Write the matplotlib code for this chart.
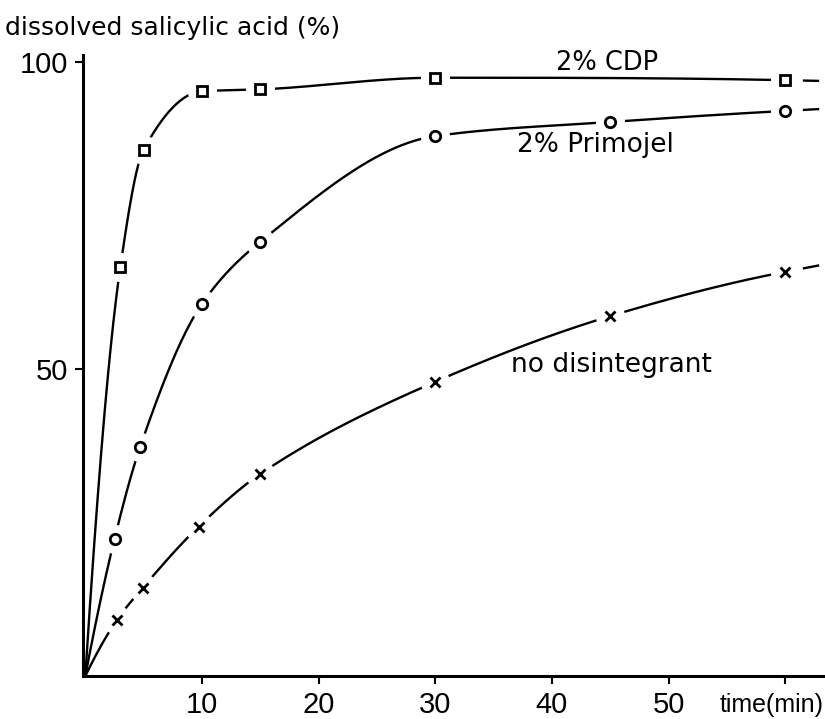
import numpy as np
import matplotlib
matplotlib.use("Agg")
import matplotlib.pyplot as plt

# ---- data ----
time_cdp = [0, 3, 5, 10, 15, 30, 60]
cdp = [0, 66.6, 85.7, 95.2, 95.5, 97.4, 97.0]
time_prim = [0, 2.5, 4.7, 10, 15, 30, 45, 60]
primojel = [0, 22.3, 37.3, 60.6, 70.7, 87.9, 90.2, 92.0]
time_none = [0, 2.7, 4.9, 9.7, 15, 30, 45, 60]
no_disint = [0, 9.1, 14.3, 24.3, 32.9, 47.9, 58.6, 65.8]

x_ticks = [10, 20, 30, 40, 50, 60]
x_ticklabels = ["10", "20", "30", "40", "50", ""]
y_ticks = [50, 100]
y_ticklabels = ["50", "100"]


def pchip_slopes(x, y):
    x = np.asarray(x, float); y = np.asarray(y, float)
    h = np.diff(x); d = np.diff(y) / h
    n = len(x); m = np.zeros(n)
    for k in range(1, n - 1):
        if d[k - 1] * d[k] > 0:
            w1 = 2 * h[k] + h[k - 1]; w2 = h[k] + 2 * h[k - 1]
            m[k] = (w1 + w2) / (w1 / d[k - 1] + w2 / d[k])
    def end(h0, h1, d0, d1):
        s = ((2 * h0 + h1) * d0 - h0 * d1) / (h0 + h1)
        if np.sign(s) != np.sign(d0):
            s = 0
        elif np.sign(d0) != np.sign(d1) and abs(s) > abs(3 * d0):
            s = 3 * d0
        return s
    m[0] = end(h[0], h[1], d[0], d[1])
    m[-1] = end(h[-1], h[-2], d[-1], d[-2])
    return m


def pchip_curve(x, y, num=800):
    x = np.asarray(x, float); y = np.asarray(y, float)
    m = pchip_slopes(x, y)
    xs = np.linspace(x[0], x[-1], num)
    idx = np.clip(np.searchsorted(x, xs) - 1, 0, len(x) - 2)
    x0 = x[idx]; x1 = x[idx + 1]; hh = x1 - x0
    t = (xs - x0) / hh
    h00 = 2 * t**3 - 3 * t**2 + 1; h10 = t**3 - 2 * t**2 + t
    h01 = -2 * t**3 + 3 * t**2; h11 = t**3 - t**2
    ys = h00 * y[idx] + h10 * hh * m[idx] + h01 * y[idx + 1] + h11 * hh * m[idx + 1]
    return xs, ys, m[-1]


W, H = 825, 719
fig = plt.figure(figsize=(W / 100, H / 100), dpi=100)
ax = fig.add_axes([83 / W, (H - 676) / H, (W - 83) / W, (676 - 55) / H])
ax.set_xlim(-0.2, 63.4)
ax.set_ylim(0, 101.1)

series = [
    (time_cdp, cdp, "s", 7),
    (time_prim, primojel, "o", 7.5),
    (time_none, no_disint, "x", 7),
]
for tx, vy, mk, ms in series:
    xs, ys, slope = pchip_curve(tx, vy)
    ax.plot(xs, ys, color="black", lw=1.7, zorder=2, solid_capstyle="butt")
    # short dashed continuation beyond the last point
    xe = np.array([61.6, 62.8])
    ax.plot(xe, vy[-1] + slope * (xe - tx[-1]), color="black", lw=1.7,
            zorder=2, clip_on=False)
    # white halos for line gaps around markers
    ax.plot(tx[1:], vy[1:], linestyle="none", marker="o", ms=20,
            mfc="white", mec="white", zorder=3)
    ax.plot(tx[1:], vy[1:], linestyle="none", marker=mk, ms=ms,
            mfc="white", mec="black", mew=2.0, zorder=4)

for s in ["top", "right"]:
    ax.spines[s].set_visible(False)
for s in ["left", "bottom"]:
    ax.spines[s].set_linewidth(2.2)

ax.set_xticks(x_ticks)
ax.set_xticklabels(x_ticklabels)
ax.set_yticks(y_ticks)
ax.set_yticklabels(y_ticklabels)
ax.tick_params(axis="both", direction="out", length=6, width=1.5,
               labelsize=21, pad=5)
for lab in ax.get_xticklabels() + ax.get_yticklabels():
    lab.set_family(["Liberation Sans", "DejaVu Sans"])

ax.text(44.7, 98.6, "2% CDP", fontsize=18.5, ha="center", va="baseline")
ax.text(43.7, 85.3, "2% Primojel", fontsize=19, ha="center", va="baseline")
ax.text(45.1, 49.5, "no disintegrant", fontsize=19, ha="center", va="baseline")

fig.text(5 / W, 1 - 35 / H, "dissolved salicylic acid (%)", fontsize=18,
         ha="left", va="baseline")
fig.text(772 / W, 1 - 712 / H, "time(min)", fontsize=18,
         ha="center", va="baseline", family=["Liberation Sans", "DejaVu Sans"])

fig.savefig("out.png", dpi=100)
